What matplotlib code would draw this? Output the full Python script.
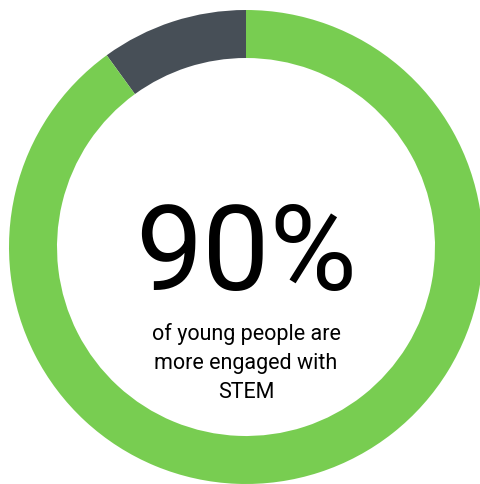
import matplotlib
matplotlib.use("Agg")
import matplotlib.pyplot as plt

labels = ["Not more engaged", "More engaged"]
values = [10, 90]
colors = ["#474f57", "#78cd51"]
big_text = "90%"
caption = "of young people are\nmore engaged with\nSTEM"

fig = plt.figure(figsize=(4.81, 4.84), dpi=100)
ax = fig.add_axes([0, 0, 1, 1])

ax.pie(values, colors=colors, startangle=90, counterclock=True,
       center=(246, 237), radius=237,
       wedgeprops=dict(width=48, linewidth=0))

# pie resets the limits, so set them afterwards (pixel units)
ax.set_xlim(0, 481)
ax.set_ylim(0, 484)
ax.set_aspect("equal")
ax.axis("off")

ax.text(246, 194, big_text, ha="center", va="baseline", fontsize=86,
        family="Roboto", color="#000000")
ax.text(246, 121, caption, ha="center", va="center", fontsize=15.5,
        family="Roboto", color="#000000", linespacing=1.5)

fig.savefig("out.png", dpi=100)
